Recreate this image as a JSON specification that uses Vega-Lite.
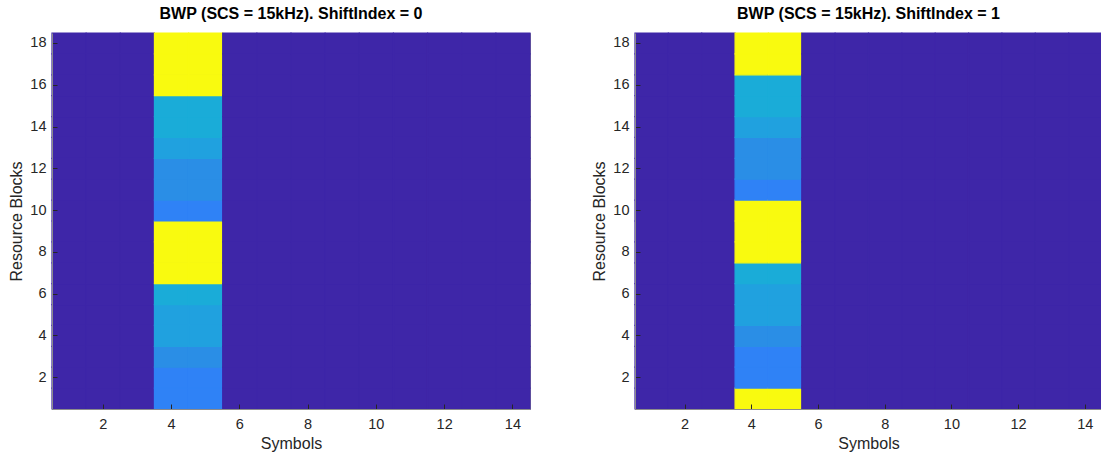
{
  "$schema": "https://vega.github.io/schema/vega-lite/v6.json",
  "background": "white",
  "padding": {"left": 8, "top": 5, "right": 0, "bottom": 0},
  "config": {
    "font": "Liberation Sans",
    "view": {"stroke": "#8c8c8c", "strokeWidth": 1, "fill": "#3E26A8"},
    "axis": {"labelFontSize": 14.5, "labelColor": "#262626", "titleFontSize": 16, "titleFontWeight": "normal", "titleColor": "#262626", "domainColor": "#8c8c8c", "tickColor": "#262626", "tickSize": -5, "grid": false, "labelAngle": 0},
    "axisX": {"labelPadding": 13, "titlePadding": 5},
    "axisY": {"labelPadding": 11, "titlePadding": 5},
    "title": {"fontSize": 16, "fontWeight": "bold", "color": "#000000", "offset": 10},
    "concat": {"spacing": 59}
  },
  "data": {"values": [
{"p":0,"s":1,"r":1,"v":0},{"p":0,"s":1,"r":2,"v":0},{"p":0,"s":1,"r":3,"v":0},{"p":0,"s":1,"r":4,"v":0},{"p":0,"s":1,"r":5,"v":0},{"p":0,"s":1,"r":6,"v":0},{"p":0,"s":1,"r":7,"v":0},{"p":0,"s":1,"r":8,"v":0},{"p":0,"s":1,"r":9,"v":0},{"p":0,"s":1,"r":10,"v":0},{"p":0,"s":1,"r":11,"v":0},{"p":0,"s":1,"r":12,"v":0},{"p":0,"s":1,"r":13,"v":0},{"p":0,"s":1,"r":14,"v":0},{"p":0,"s":1,"r":15,"v":0},{"p":0,"s":1,"r":16,"v":0},{"p":0,"s":1,"r":17,"v":0},{"p":0,"s":1,"r":18,"v":0},
{"p":0,"s":2,"r":1,"v":0},{"p":0,"s":2,"r":2,"v":0},{"p":0,"s":2,"r":3,"v":0},{"p":0,"s":2,"r":4,"v":0},{"p":0,"s":2,"r":5,"v":0},{"p":0,"s":2,"r":6,"v":0},{"p":0,"s":2,"r":7,"v":0},{"p":0,"s":2,"r":8,"v":0},{"p":0,"s":2,"r":9,"v":0},{"p":0,"s":2,"r":10,"v":0},{"p":0,"s":2,"r":11,"v":0},{"p":0,"s":2,"r":12,"v":0},{"p":0,"s":2,"r":13,"v":0},{"p":0,"s":2,"r":14,"v":0},{"p":0,"s":2,"r":15,"v":0},{"p":0,"s":2,"r":16,"v":0},{"p":0,"s":2,"r":17,"v":0},{"p":0,"s":2,"r":18,"v":0},
{"p":0,"s":3,"r":1,"v":0},{"p":0,"s":3,"r":2,"v":0},{"p":0,"s":3,"r":3,"v":0},{"p":0,"s":3,"r":4,"v":0},{"p":0,"s":3,"r":5,"v":0},{"p":0,"s":3,"r":6,"v":0},{"p":0,"s":3,"r":7,"v":0},{"p":0,"s":3,"r":8,"v":0},{"p":0,"s":3,"r":9,"v":0},{"p":0,"s":3,"r":10,"v":0},{"p":0,"s":3,"r":11,"v":0},{"p":0,"s":3,"r":12,"v":0},{"p":0,"s":3,"r":13,"v":0},{"p":0,"s":3,"r":14,"v":0},{"p":0,"s":3,"r":15,"v":0},{"p":0,"s":3,"r":16,"v":0},{"p":0,"s":3,"r":17,"v":0},{"p":0,"s":3,"r":18,"v":0},
{"p":0,"s":4,"r":1,"v":1},{"p":0,"s":4,"r":2,"v":1},{"p":0,"s":4,"r":3,"v":2},{"p":0,"s":4,"r":4,"v":3},{"p":0,"s":4,"r":5,"v":3},{"p":0,"s":4,"r":6,"v":4},{"p":0,"s":4,"r":7,"v":5},{"p":0,"s":4,"r":8,"v":5},{"p":0,"s":4,"r":9,"v":5},{"p":0,"s":4,"r":10,"v":1},{"p":0,"s":4,"r":11,"v":2},{"p":0,"s":4,"r":12,"v":2},{"p":0,"s":4,"r":13,"v":3},{"p":0,"s":4,"r":14,"v":4},{"p":0,"s":4,"r":15,"v":4},{"p":0,"s":4,"r":16,"v":5},{"p":0,"s":4,"r":17,"v":5},{"p":0,"s":4,"r":18,"v":5},
{"p":0,"s":5,"r":1,"v":1},{"p":0,"s":5,"r":2,"v":1},{"p":0,"s":5,"r":3,"v":2},{"p":0,"s":5,"r":4,"v":3},{"p":0,"s":5,"r":5,"v":3},{"p":0,"s":5,"r":6,"v":4},{"p":0,"s":5,"r":7,"v":5},{"p":0,"s":5,"r":8,"v":5},{"p":0,"s":5,"r":9,"v":5},{"p":0,"s":5,"r":10,"v":1},{"p":0,"s":5,"r":11,"v":2},{"p":0,"s":5,"r":12,"v":2},{"p":0,"s":5,"r":13,"v":3},{"p":0,"s":5,"r":14,"v":4},{"p":0,"s":5,"r":15,"v":4},{"p":0,"s":5,"r":16,"v":5},{"p":0,"s":5,"r":17,"v":5},{"p":0,"s":5,"r":18,"v":5},
{"p":0,"s":6,"r":1,"v":0},{"p":0,"s":6,"r":2,"v":0},{"p":0,"s":6,"r":3,"v":0},{"p":0,"s":6,"r":4,"v":0},{"p":0,"s":6,"r":5,"v":0},{"p":0,"s":6,"r":6,"v":0},{"p":0,"s":6,"r":7,"v":0},{"p":0,"s":6,"r":8,"v":0},{"p":0,"s":6,"r":9,"v":0},{"p":0,"s":6,"r":10,"v":0},{"p":0,"s":6,"r":11,"v":0},{"p":0,"s":6,"r":12,"v":0},{"p":0,"s":6,"r":13,"v":0},{"p":0,"s":6,"r":14,"v":0},{"p":0,"s":6,"r":15,"v":0},{"p":0,"s":6,"r":16,"v":0},{"p":0,"s":6,"r":17,"v":0},{"p":0,"s":6,"r":18,"v":0},
{"p":0,"s":7,"r":1,"v":0},{"p":0,"s":7,"r":2,"v":0},{"p":0,"s":7,"r":3,"v":0},{"p":0,"s":7,"r":4,"v":0},{"p":0,"s":7,"r":5,"v":0},{"p":0,"s":7,"r":6,"v":0},{"p":0,"s":7,"r":7,"v":0},{"p":0,"s":7,"r":8,"v":0},{"p":0,"s":7,"r":9,"v":0},{"p":0,"s":7,"r":10,"v":0},{"p":0,"s":7,"r":11,"v":0},{"p":0,"s":7,"r":12,"v":0},{"p":0,"s":7,"r":13,"v":0},{"p":0,"s":7,"r":14,"v":0},{"p":0,"s":7,"r":15,"v":0},{"p":0,"s":7,"r":16,"v":0},{"p":0,"s":7,"r":17,"v":0},{"p":0,"s":7,"r":18,"v":0},
{"p":0,"s":8,"r":1,"v":0},{"p":0,"s":8,"r":2,"v":0},{"p":0,"s":8,"r":3,"v":0},{"p":0,"s":8,"r":4,"v":0},{"p":0,"s":8,"r":5,"v":0},{"p":0,"s":8,"r":6,"v":0},{"p":0,"s":8,"r":7,"v":0},{"p":0,"s":8,"r":8,"v":0},{"p":0,"s":8,"r":9,"v":0},{"p":0,"s":8,"r":10,"v":0},{"p":0,"s":8,"r":11,"v":0},{"p":0,"s":8,"r":12,"v":0},{"p":0,"s":8,"r":13,"v":0},{"p":0,"s":8,"r":14,"v":0},{"p":0,"s":8,"r":15,"v":0},{"p":0,"s":8,"r":16,"v":0},{"p":0,"s":8,"r":17,"v":0},{"p":0,"s":8,"r":18,"v":0},
{"p":0,"s":9,"r":1,"v":0},{"p":0,"s":9,"r":2,"v":0},{"p":0,"s":9,"r":3,"v":0},{"p":0,"s":9,"r":4,"v":0},{"p":0,"s":9,"r":5,"v":0},{"p":0,"s":9,"r":6,"v":0},{"p":0,"s":9,"r":7,"v":0},{"p":0,"s":9,"r":8,"v":0},{"p":0,"s":9,"r":9,"v":0},{"p":0,"s":9,"r":10,"v":0},{"p":0,"s":9,"r":11,"v":0},{"p":0,"s":9,"r":12,"v":0},{"p":0,"s":9,"r":13,"v":0},{"p":0,"s":9,"r":14,"v":0},{"p":0,"s":9,"r":15,"v":0},{"p":0,"s":9,"r":16,"v":0},{"p":0,"s":9,"r":17,"v":0},{"p":0,"s":9,"r":18,"v":0},
{"p":0,"s":10,"r":1,"v":0},{"p":0,"s":10,"r":2,"v":0},{"p":0,"s":10,"r":3,"v":0},{"p":0,"s":10,"r":4,"v":0},{"p":0,"s":10,"r":5,"v":0},{"p":0,"s":10,"r":6,"v":0},{"p":0,"s":10,"r":7,"v":0},{"p":0,"s":10,"r":8,"v":0},{"p":0,"s":10,"r":9,"v":0},{"p":0,"s":10,"r":10,"v":0},{"p":0,"s":10,"r":11,"v":0},{"p":0,"s":10,"r":12,"v":0},{"p":0,"s":10,"r":13,"v":0},{"p":0,"s":10,"r":14,"v":0},{"p":0,"s":10,"r":15,"v":0},{"p":0,"s":10,"r":16,"v":0},{"p":0,"s":10,"r":17,"v":0},{"p":0,"s":10,"r":18,"v":0},
{"p":0,"s":11,"r":1,"v":0},{"p":0,"s":11,"r":2,"v":0},{"p":0,"s":11,"r":3,"v":0},{"p":0,"s":11,"r":4,"v":0},{"p":0,"s":11,"r":5,"v":0},{"p":0,"s":11,"r":6,"v":0},{"p":0,"s":11,"r":7,"v":0},{"p":0,"s":11,"r":8,"v":0},{"p":0,"s":11,"r":9,"v":0},{"p":0,"s":11,"r":10,"v":0},{"p":0,"s":11,"r":11,"v":0},{"p":0,"s":11,"r":12,"v":0},{"p":0,"s":11,"r":13,"v":0},{"p":0,"s":11,"r":14,"v":0},{"p":0,"s":11,"r":15,"v":0},{"p":0,"s":11,"r":16,"v":0},{"p":0,"s":11,"r":17,"v":0},{"p":0,"s":11,"r":18,"v":0},
{"p":0,"s":12,"r":1,"v":0},{"p":0,"s":12,"r":2,"v":0},{"p":0,"s":12,"r":3,"v":0},{"p":0,"s":12,"r":4,"v":0},{"p":0,"s":12,"r":5,"v":0},{"p":0,"s":12,"r":6,"v":0},{"p":0,"s":12,"r":7,"v":0},{"p":0,"s":12,"r":8,"v":0},{"p":0,"s":12,"r":9,"v":0},{"p":0,"s":12,"r":10,"v":0},{"p":0,"s":12,"r":11,"v":0},{"p":0,"s":12,"r":12,"v":0},{"p":0,"s":12,"r":13,"v":0},{"p":0,"s":12,"r":14,"v":0},{"p":0,"s":12,"r":15,"v":0},{"p":0,"s":12,"r":16,"v":0},{"p":0,"s":12,"r":17,"v":0},{"p":0,"s":12,"r":18,"v":0},
{"p":0,"s":13,"r":1,"v":0},{"p":0,"s":13,"r":2,"v":0},{"p":0,"s":13,"r":3,"v":0},{"p":0,"s":13,"r":4,"v":0},{"p":0,"s":13,"r":5,"v":0},{"p":0,"s":13,"r":6,"v":0},{"p":0,"s":13,"r":7,"v":0},{"p":0,"s":13,"r":8,"v":0},{"p":0,"s":13,"r":9,"v":0},{"p":0,"s":13,"r":10,"v":0},{"p":0,"s":13,"r":11,"v":0},{"p":0,"s":13,"r":12,"v":0},{"p":0,"s":13,"r":13,"v":0},{"p":0,"s":13,"r":14,"v":0},{"p":0,"s":13,"r":15,"v":0},{"p":0,"s":13,"r":16,"v":0},{"p":0,"s":13,"r":17,"v":0},{"p":0,"s":13,"r":18,"v":0},
{"p":0,"s":14,"r":1,"v":0},{"p":0,"s":14,"r":2,"v":0},{"p":0,"s":14,"r":3,"v":0},{"p":0,"s":14,"r":4,"v":0},{"p":0,"s":14,"r":5,"v":0},{"p":0,"s":14,"r":6,"v":0},{"p":0,"s":14,"r":7,"v":0},{"p":0,"s":14,"r":8,"v":0},{"p":0,"s":14,"r":9,"v":0},{"p":0,"s":14,"r":10,"v":0},{"p":0,"s":14,"r":11,"v":0},{"p":0,"s":14,"r":12,"v":0},{"p":0,"s":14,"r":13,"v":0},{"p":0,"s":14,"r":14,"v":0},{"p":0,"s":14,"r":15,"v":0},{"p":0,"s":14,"r":16,"v":0},{"p":0,"s":14,"r":17,"v":0},{"p":0,"s":14,"r":18,"v":0},
{"p":1,"s":1,"r":1,"v":0},{"p":1,"s":1,"r":2,"v":0},{"p":1,"s":1,"r":3,"v":0},{"p":1,"s":1,"r":4,"v":0},{"p":1,"s":1,"r":5,"v":0},{"p":1,"s":1,"r":6,"v":0},{"p":1,"s":1,"r":7,"v":0},{"p":1,"s":1,"r":8,"v":0},{"p":1,"s":1,"r":9,"v":0},{"p":1,"s":1,"r":10,"v":0},{"p":1,"s":1,"r":11,"v":0},{"p":1,"s":1,"r":12,"v":0},{"p":1,"s":1,"r":13,"v":0},{"p":1,"s":1,"r":14,"v":0},{"p":1,"s":1,"r":15,"v":0},{"p":1,"s":1,"r":16,"v":0},{"p":1,"s":1,"r":17,"v":0},{"p":1,"s":1,"r":18,"v":0},
{"p":1,"s":2,"r":1,"v":0},{"p":1,"s":2,"r":2,"v":0},{"p":1,"s":2,"r":3,"v":0},{"p":1,"s":2,"r":4,"v":0},{"p":1,"s":2,"r":5,"v":0},{"p":1,"s":2,"r":6,"v":0},{"p":1,"s":2,"r":7,"v":0},{"p":1,"s":2,"r":8,"v":0},{"p":1,"s":2,"r":9,"v":0},{"p":1,"s":2,"r":10,"v":0},{"p":1,"s":2,"r":11,"v":0},{"p":1,"s":2,"r":12,"v":0},{"p":1,"s":2,"r":13,"v":0},{"p":1,"s":2,"r":14,"v":0},{"p":1,"s":2,"r":15,"v":0},{"p":1,"s":2,"r":16,"v":0},{"p":1,"s":2,"r":17,"v":0},{"p":1,"s":2,"r":18,"v":0},
{"p":1,"s":3,"r":1,"v":0},{"p":1,"s":3,"r":2,"v":0},{"p":1,"s":3,"r":3,"v":0},{"p":1,"s":3,"r":4,"v":0},{"p":1,"s":3,"r":5,"v":0},{"p":1,"s":3,"r":6,"v":0},{"p":1,"s":3,"r":7,"v":0},{"p":1,"s":3,"r":8,"v":0},{"p":1,"s":3,"r":9,"v":0},{"p":1,"s":3,"r":10,"v":0},{"p":1,"s":3,"r":11,"v":0},{"p":1,"s":3,"r":12,"v":0},{"p":1,"s":3,"r":13,"v":0},{"p":1,"s":3,"r":14,"v":0},{"p":1,"s":3,"r":15,"v":0},{"p":1,"s":3,"r":16,"v":0},{"p":1,"s":3,"r":17,"v":0},{"p":1,"s":3,"r":18,"v":0},
{"p":1,"s":4,"r":1,"v":5},{"p":1,"s":4,"r":2,"v":1},{"p":1,"s":4,"r":3,"v":1},{"p":1,"s":4,"r":4,"v":2},{"p":1,"s":4,"r":5,"v":3},{"p":1,"s":4,"r":6,"v":3},{"p":1,"s":4,"r":7,"v":4},{"p":1,"s":4,"r":8,"v":5},{"p":1,"s":4,"r":9,"v":5},{"p":1,"s":4,"r":10,"v":5},{"p":1,"s":4,"r":11,"v":1},{"p":1,"s":4,"r":12,"v":2},{"p":1,"s":4,"r":13,"v":2},{"p":1,"s":4,"r":14,"v":3},{"p":1,"s":4,"r":15,"v":4},{"p":1,"s":4,"r":16,"v":4},{"p":1,"s":4,"r":17,"v":5},{"p":1,"s":4,"r":18,"v":5},
{"p":1,"s":5,"r":1,"v":5},{"p":1,"s":5,"r":2,"v":1},{"p":1,"s":5,"r":3,"v":1},{"p":1,"s":5,"r":4,"v":2},{"p":1,"s":5,"r":5,"v":3},{"p":1,"s":5,"r":6,"v":3},{"p":1,"s":5,"r":7,"v":4},{"p":1,"s":5,"r":8,"v":5},{"p":1,"s":5,"r":9,"v":5},{"p":1,"s":5,"r":10,"v":5},{"p":1,"s":5,"r":11,"v":1},{"p":1,"s":5,"r":12,"v":2},{"p":1,"s":5,"r":13,"v":2},{"p":1,"s":5,"r":14,"v":3},{"p":1,"s":5,"r":15,"v":4},{"p":1,"s":5,"r":16,"v":4},{"p":1,"s":5,"r":17,"v":5},{"p":1,"s":5,"r":18,"v":5},
{"p":1,"s":6,"r":1,"v":0},{"p":1,"s":6,"r":2,"v":0},{"p":1,"s":6,"r":3,"v":0},{"p":1,"s":6,"r":4,"v":0},{"p":1,"s":6,"r":5,"v":0},{"p":1,"s":6,"r":6,"v":0},{"p":1,"s":6,"r":7,"v":0},{"p":1,"s":6,"r":8,"v":0},{"p":1,"s":6,"r":9,"v":0},{"p":1,"s":6,"r":10,"v":0},{"p":1,"s":6,"r":11,"v":0},{"p":1,"s":6,"r":12,"v":0},{"p":1,"s":6,"r":13,"v":0},{"p":1,"s":6,"r":14,"v":0},{"p":1,"s":6,"r":15,"v":0},{"p":1,"s":6,"r":16,"v":0},{"p":1,"s":6,"r":17,"v":0},{"p":1,"s":6,"r":18,"v":0},
{"p":1,"s":7,"r":1,"v":0},{"p":1,"s":7,"r":2,"v":0},{"p":1,"s":7,"r":3,"v":0},{"p":1,"s":7,"r":4,"v":0},{"p":1,"s":7,"r":5,"v":0},{"p":1,"s":7,"r":6,"v":0},{"p":1,"s":7,"r":7,"v":0},{"p":1,"s":7,"r":8,"v":0},{"p":1,"s":7,"r":9,"v":0},{"p":1,"s":7,"r":10,"v":0},{"p":1,"s":7,"r":11,"v":0},{"p":1,"s":7,"r":12,"v":0},{"p":1,"s":7,"r":13,"v":0},{"p":1,"s":7,"r":14,"v":0},{"p":1,"s":7,"r":15,"v":0},{"p":1,"s":7,"r":16,"v":0},{"p":1,"s":7,"r":17,"v":0},{"p":1,"s":7,"r":18,"v":0},
{"p":1,"s":8,"r":1,"v":0},{"p":1,"s":8,"r":2,"v":0},{"p":1,"s":8,"r":3,"v":0},{"p":1,"s":8,"r":4,"v":0},{"p":1,"s":8,"r":5,"v":0},{"p":1,"s":8,"r":6,"v":0},{"p":1,"s":8,"r":7,"v":0},{"p":1,"s":8,"r":8,"v":0},{"p":1,"s":8,"r":9,"v":0},{"p":1,"s":8,"r":10,"v":0},{"p":1,"s":8,"r":11,"v":0},{"p":1,"s":8,"r":12,"v":0},{"p":1,"s":8,"r":13,"v":0},{"p":1,"s":8,"r":14,"v":0},{"p":1,"s":8,"r":15,"v":0},{"p":1,"s":8,"r":16,"v":0},{"p":1,"s":8,"r":17,"v":0},{"p":1,"s":8,"r":18,"v":0},
{"p":1,"s":9,"r":1,"v":0},{"p":1,"s":9,"r":2,"v":0},{"p":1,"s":9,"r":3,"v":0},{"p":1,"s":9,"r":4,"v":0},{"p":1,"s":9,"r":5,"v":0},{"p":1,"s":9,"r":6,"v":0},{"p":1,"s":9,"r":7,"v":0},{"p":1,"s":9,"r":8,"v":0},{"p":1,"s":9,"r":9,"v":0},{"p":1,"s":9,"r":10,"v":0},{"p":1,"s":9,"r":11,"v":0},{"p":1,"s":9,"r":12,"v":0},{"p":1,"s":9,"r":13,"v":0},{"p":1,"s":9,"r":14,"v":0},{"p":1,"s":9,"r":15,"v":0},{"p":1,"s":9,"r":16,"v":0},{"p":1,"s":9,"r":17,"v":0},{"p":1,"s":9,"r":18,"v":0},
{"p":1,"s":10,"r":1,"v":0},{"p":1,"s":10,"r":2,"v":0},{"p":1,"s":10,"r":3,"v":0},{"p":1,"s":10,"r":4,"v":0},{"p":1,"s":10,"r":5,"v":0},{"p":1,"s":10,"r":6,"v":0},{"p":1,"s":10,"r":7,"v":0},{"p":1,"s":10,"r":8,"v":0},{"p":1,"s":10,"r":9,"v":0},{"p":1,"s":10,"r":10,"v":0},{"p":1,"s":10,"r":11,"v":0},{"p":1,"s":10,"r":12,"v":0},{"p":1,"s":10,"r":13,"v":0},{"p":1,"s":10,"r":14,"v":0},{"p":1,"s":10,"r":15,"v":0},{"p":1,"s":10,"r":16,"v":0},{"p":1,"s":10,"r":17,"v":0},{"p":1,"s":10,"r":18,"v":0},
{"p":1,"s":11,"r":1,"v":0},{"p":1,"s":11,"r":2,"v":0},{"p":1,"s":11,"r":3,"v":0},{"p":1,"s":11,"r":4,"v":0},{"p":1,"s":11,"r":5,"v":0},{"p":1,"s":11,"r":6,"v":0},{"p":1,"s":11,"r":7,"v":0},{"p":1,"s":11,"r":8,"v":0},{"p":1,"s":11,"r":9,"v":0},{"p":1,"s":11,"r":10,"v":0},{"p":1,"s":11,"r":11,"v":0},{"p":1,"s":11,"r":12,"v":0},{"p":1,"s":11,"r":13,"v":0},{"p":1,"s":11,"r":14,"v":0},{"p":1,"s":11,"r":15,"v":0},{"p":1,"s":11,"r":16,"v":0},{"p":1,"s":11,"r":17,"v":0},{"p":1,"s":11,"r":18,"v":0},
{"p":1,"s":12,"r":1,"v":0},{"p":1,"s":12,"r":2,"v":0},{"p":1,"s":12,"r":3,"v":0},{"p":1,"s":12,"r":4,"v":0},{"p":1,"s":12,"r":5,"v":0},{"p":1,"s":12,"r":6,"v":0},{"p":1,"s":12,"r":7,"v":0},{"p":1,"s":12,"r":8,"v":0},{"p":1,"s":12,"r":9,"v":0},{"p":1,"s":12,"r":10,"v":0},{"p":1,"s":12,"r":11,"v":0},{"p":1,"s":12,"r":12,"v":0},{"p":1,"s":12,"r":13,"v":0},{"p":1,"s":12,"r":14,"v":0},{"p":1,"s":12,"r":15,"v":0},{"p":1,"s":12,"r":16,"v":0},{"p":1,"s":12,"r":17,"v":0},{"p":1,"s":12,"r":18,"v":0},
{"p":1,"s":13,"r":1,"v":0},{"p":1,"s":13,"r":2,"v":0},{"p":1,"s":13,"r":3,"v":0},{"p":1,"s":13,"r":4,"v":0},{"p":1,"s":13,"r":5,"v":0},{"p":1,"s":13,"r":6,"v":0},{"p":1,"s":13,"r":7,"v":0},{"p":1,"s":13,"r":8,"v":0},{"p":1,"s":13,"r":9,"v":0},{"p":1,"s":13,"r":10,"v":0},{"p":1,"s":13,"r":11,"v":0},{"p":1,"s":13,"r":12,"v":0},{"p":1,"s":13,"r":13,"v":0},{"p":1,"s":13,"r":14,"v":0},{"p":1,"s":13,"r":15,"v":0},{"p":1,"s":13,"r":16,"v":0},{"p":1,"s":13,"r":17,"v":0},{"p":1,"s":13,"r":18,"v":0},
{"p":1,"s":14,"r":1,"v":0},{"p":1,"s":14,"r":2,"v":0},{"p":1,"s":14,"r":3,"v":0},{"p":1,"s":14,"r":4,"v":0},{"p":1,"s":14,"r":5,"v":0},{"p":1,"s":14,"r":6,"v":0},{"p":1,"s":14,"r":7,"v":0},{"p":1,"s":14,"r":8,"v":0},{"p":1,"s":14,"r":9,"v":0},{"p":1,"s":14,"r":10,"v":0},{"p":1,"s":14,"r":11,"v":0},{"p":1,"s":14,"r":12,"v":0},{"p":1,"s":14,"r":13,"v":0},{"p":1,"s":14,"r":14,"v":0},{"p":1,"s":14,"r":15,"v":0},{"p":1,"s":14,"r":16,"v":0},{"p":1,"s":14,"r":17,"v":0},{"p":1,"s":14,"r":18,"v":0}
  ]},
  "hconcat": [
    {
      "title": "BWP (SCS = 15kHz). ShiftIndex = 0",
      "width": 478,
      "height": 376,
      "transform": [{"filter": "datum.p == 0"}],
      "mark": {"type": "rect", "strokeWidth": 1.2},
      "encoding": {
        "x": {"field": "s", "type": "ordinal", "axis": {"values": [2, 4, 6, 8, 10, 12, 14], "title": "Symbols"}},
        "y": {"field": "r", "type": "ordinal", "sort": "descending", "axis": {"values": [2, 4, 6, 8, 10, 12, 14, 16, 18], "title": "Resource Blocks"}},
        "color": {"field": "v", "type": "quantitative", "legend": null, "scale": {"domain": [0, 1, 2, 3, 4, 5], "range": ["#3E26A8", "#2F82F6", "#2A8EE6", "#20A1DF", "#1AACD8", "#F9FA0F"]}},
        "stroke": {"field": "v", "type": "quantitative", "legend": null, "scale": {"domain": [0, 1, 2, 3, 4, 5], "range": ["#3E26A8", "#2F82F6", "#2A8EE6", "#20A1DF", "#1AACD8", "#F9FA0F"]}}
      }
    },
    {
      "title": "BWP (SCS = 15kHz). ShiftIndex = 1",
      "width": 467,
      "height": 376,
      "transform": [{"filter": "datum.p == 1"}],
      "mark": {"type": "rect", "strokeWidth": 1.2},
      "encoding": {
        "x": {"field": "s", "type": "ordinal", "axis": {"values": [2, 4, 6, 8, 10, 12, 14], "title": "Symbols"}},
        "y": {"field": "r", "type": "ordinal", "sort": "descending", "axis": {"values": [2, 4, 6, 8, 10, 12, 14, 16, 18], "title": "Resource Blocks"}},
        "color": {"field": "v", "type": "quantitative", "legend": null, "scale": {"domain": [0, 1, 2, 3, 4, 5], "range": ["#3E26A8", "#2F82F6", "#2A8EE6", "#20A1DF", "#1AACD8", "#F9FA0F"]}},
        "stroke": {"field": "v", "type": "quantitative", "legend": null, "scale": {"domain": [0, 1, 2, 3, 4, 5], "range": ["#3E26A8", "#2F82F6", "#2A8EE6", "#20A1DF", "#1AACD8", "#F9FA0F"]}}
      }
    }
  ],
  "resolve": {"scale": {"color": "independent", "stroke": "independent"}}
}
